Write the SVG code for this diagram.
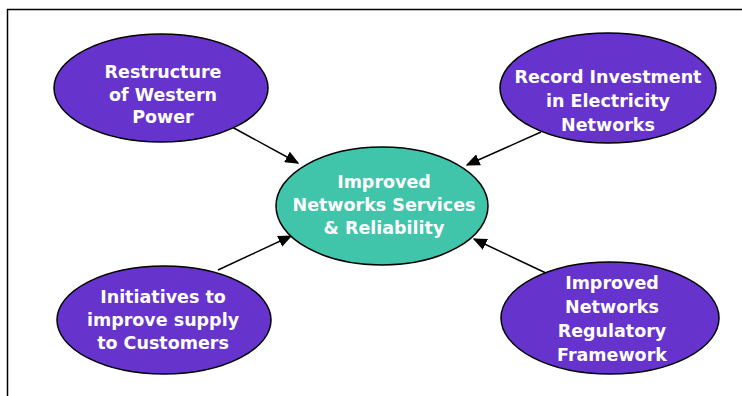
<svg xmlns="http://www.w3.org/2000/svg" width="742" height="396" viewBox="0 0 742 396">
<style>
.n{fill:#6633CC;stroke:#000;stroke-width:1.5}
.c{fill:#40C4AA;stroke:#000;stroke-width:1.5}
.t{font-family:"DejaVu Sans",Verdana,sans-serif;font-weight:bold;font-size:17.5px;fill:#fff;text-anchor:middle}
.e{stroke:#000;stroke-width:1.5;fill:none;marker-end:url(#ah)}
</style>
<defs>
<marker id="ah" viewBox="0 0 10 10" refX="9" refY="5" markerWidth="14" markerHeight="12" markerUnits="userSpaceOnUse" orient="auto" preserveAspectRatio="none"><path d="M0,0L10,5L0,10z" fill="#000"/></marker>
</defs>
<rect x="0" y="0" width="742" height="396" fill="#fff"/>
<path d="M7.5,396V9.5H742" fill="none" stroke="#000" stroke-width="1.5"/>
<g id="connectors">
<line class="e" x1="232" y1="127" x2="298" y2="163"/>
<line class="e" x1="541" y1="132" x2="467" y2="165"/>
<line class="e" x1="218" y1="270" x2="291" y2="236"/>
<line class="e" x1="548" y1="274" x2="474" y2="239"/>
</g>
<g id="center">
<ellipse class="c" cx="382" cy="206" rx="106" ry="59"/>
<text class="t" x="384" y="188">Improved</text>
<text class="t" x="384" y="211">Networks Services</text>
<text class="t" x="384" y="234">&amp; Reliability</text>
</g>
<g id="restructure">
<ellipse class="n" cx="161" cy="88" rx="107" ry="54"/>
<text class="t" x="163" y="78">Restructure</text>
<text class="t" x="163" y="101">of Western</text>
<text class="t" x="163" y="123">Power</text>
</g>
<g id="record">
<ellipse class="n" cx="608" cy="88" rx="108" ry="55"/>
<text class="t" x="608" y="83">Record Investment</text>
<text class="t" x="608" y="107">in Electricity</text>
<text class="t" x="608" y="131">Networks</text>
</g>
<g id="initiatives">
<ellipse class="n" cx="164" cy="320" rx="107" ry="54"/>
<text class="t" x="163" y="303">Initiatives to</text>
<text class="t" x="163" y="326">improve supply</text>
<text class="t" x="163" y="349">to Customers</text>
</g>
<g id="regulatory">
<ellipse class="n" cx="610" cy="318" rx="109" ry="56"/>
<text class="t" x="612" y="289">Improved</text>
<text class="t" x="612" y="313">Networks</text>
<text class="t" x="612" y="337">Regulatory</text>
<text class="t" x="612" y="361">Framework</text>
</g>
</svg>
